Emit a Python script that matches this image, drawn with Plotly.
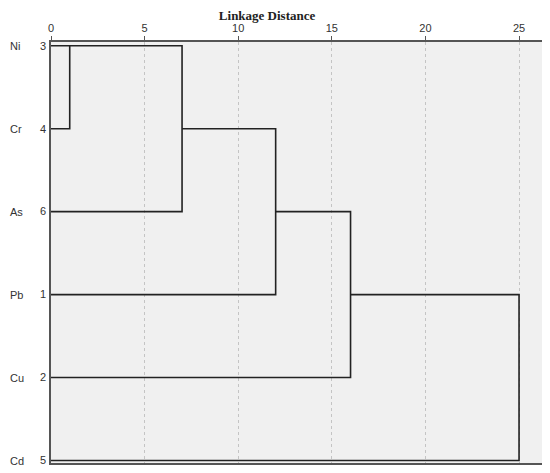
import plotly.graph_objects as go

labels = ["Ni", "Cr", "As", "Pb", "Cu", "Cd"]
case_ids = ["3", "4", "6", "1", "2", "5"]

# merges: node ids (0-5 leaves, 6+ clusters), rescaled distance, row of new cluster
merge_left = [0, 6, 7, 8, 9]
merge_right = [1, 2, 3, 4, 5]
merge_dist = [1, 7, 12, 16, 25]
merge_row = [0, 1, 2, 3, 4]

node_x = [0] * len(labels)
node_row = list(range(len(labels)))

fig = go.Figure()
for a, b, d, r in zip(merge_left, merge_right, merge_dist, merge_row):
    fig.add_trace(go.Scatter(
        x=[node_x[a], d, d, node_x[b]],
        y=[node_row[a], node_row[a], node_row[b], node_row[b]],
        mode="lines", line=dict(color="#222", width=1.6),
        hoverinfo="skip", showlegend=False))
    node_x.append(d)
    node_row.append(r)

for i, lab in enumerate(labels):
    fig.add_annotation(x=0, xref="paper", xshift=-43, y=i, yref="y", text=lab,
                       showarrow=False, xanchor="left",
                       font=dict(family="Liberation Sans", size=11, color="#333"))

# page body has an 8px margin, so the figure is 8px smaller than the window
fig.update_layout(
    width=542, height=465,
    margin=dict(l=43, r=7, t=34, b=10),
    paper_bgcolor="white", plot_bgcolor="#f0f0f0",
    title=dict(text="<b>Linkage Distance</b>", x=0.478, xanchor="center", y=0.985, yanchor="middle",
               font=dict(family="Liberation Serif", size=13, color="#222")),
)
fig.update_xaxes(range=[0, 26.28], side="top", tickvals=[0, 5, 10, 15, 20, 25],
                 showgrid=True, gridcolor="#c4c4c4", griddash="3px,3px", gridwidth=1,
                 zeroline=False, showline=True, mirror=True, linecolor="#555", linewidth=1.5,
                 ticks="outside", ticklen=4, tickcolor="#555", automargin=False,
                 tickfont=dict(family="Liberation Sans", size=11, color="#333"))
fig.update_yaxes(range=[5.03, -0.045], tickvals=list(range(len(labels))), ticktext=case_ids,
                 showgrid=False, zeroline=False, showline=True, mirror=True,
                 linecolor="#555", linewidth=1.5, ticks="", ticklabelstandoff=1, automargin=False,
                 tickfont=dict(family="Liberation Sans", size=11, color="#333"))

fig.write_html("out.html")
